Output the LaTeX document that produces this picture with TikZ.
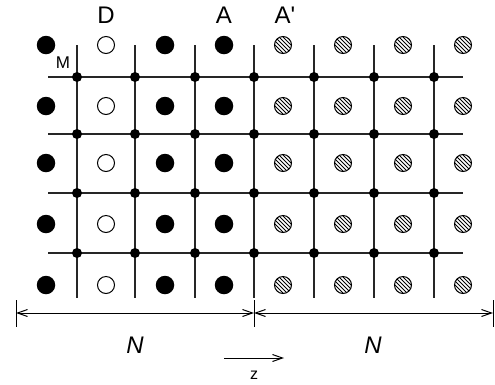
\documentclass[tikz,border=0pt]{standalone}
\usepackage{fontspec}
\setmainfont{Liberation Sans}
\newfontfamily\lsans{Liberation Sans}
\usetikzlibrary{arrows.meta,calc}
\tikzset{
  gridline/.style={line width=1.5pt, black!85},
  junction/.style={circle, fill=black, inner sep=0pt, minimum size=10pt},
  fullatom/.style={circle, fill=black, inner sep=0pt, minimum size=18.5pt},
  openatom/.style={circle, draw=black, line width=1pt, fill=white, inner sep=0pt, minimum size=17pt},
  hatchatom/.style={circle, draw=black, line width=1pt, inner sep=0pt, minimum size=17pt},
  lbl/.style={font=\lsans\fontsize{24}{24}\selectfont, inner sep=0pt},
  ilbl/.style={font=\lsans\itshape\fontsize{24}{24}\selectfont, inner sep=0pt},
  dimline/.style={line width=1pt, {Straight Barb[length=10pt,width=7pt]}-{Straight Barb[length=10pt,width=7pt]}},
  tick/.style={line width=1pt},
}
\begin{document}
\begin{tikzpicture}[x=1pt,y=-1pt]
\useasboundingbox (0,0) rectangle (495,384);
% grid
\foreach \y in {77,134,193,253} \draw[gridline] (48,\y) -- (463,\y);
\foreach \x in {77,135,195,254,314,374,434} \draw[gridline] (\x,45) -- (\x,298);
\foreach \x [count=\i] in {77,135,195,254,314,374,434}
  \foreach \y [count=\j] in {77,134,193,253}
    \node[junction] (j\i\j) at (\x,\y) {};
% atoms
\foreach \y [count=\j] in {45,106,163,224,285} {
  \node[fullatom] (a1\j) at (46,\y) {};
  \node[openatom] (a2\j) at (106,\y) {};
  \node[fullatom] (a3\j) at (165,\y) {};
  \node[fullatom] (a4\j) at (224,\y) {};
  \foreach \x [count=\k from 5] in {283,343,403,463} {
    \node[hatchatom] (a\k\j) at (\x,\y) {};
    \begin{scope}
      \clip (\x,\y) circle (8.5pt);
      \foreach \d in {-16,-12,...,16}
        \draw[line width=0.9pt] ($(\x,\y)+(\d-12,-12)$) -- ($(\x,\y)+(\d+12,12)$);
    \end{scope}
  }
}
% labels
\node[lbl] (lD) at (106,15) {D};
\node[lbl] (lA) at (224,15) {A};
\node[lbl] (lAp) at (285,15) {A'};
\node[font=\lsans\fontsize{17}{17}\selectfont, inner sep=0pt] (lM) at (63,63) {M};
% dimension
\coordinate (t1) at (16,313);
\coordinate (t2) at (254,313);
\coordinate (t3) at (493,313);
\draw[tick] (16,300) -- (16,327);
\draw[tick] (254,300) -- (254,327);
\draw[tick] (493,300) -- (493,327);
\draw[dimline] (t1) -- (t2);
\draw[dimline] (t2) -- (t3);
\node[ilbl] (n1) at (135,345) {N};
\node[ilbl] (n2) at (373,345) {N};
\coordinate (z1) at (224,358);
\coordinate (z2) at (284,358);
\draw[line width=1pt, -{Straight Barb[length=10pt,width=7pt]}] (z1) -- (z2);
\node[font=\lsans\fontsize{16}{16}\selectfont, inner sep=0pt] (lz) at (254,375) {z};
\end{tikzpicture}
\end{document}
